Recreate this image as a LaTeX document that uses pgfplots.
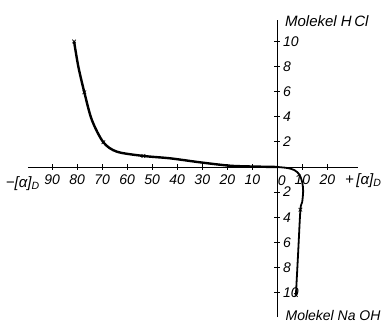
\documentclass[border=0pt]{standalone}
\usepackage{pgfplots}
\pgfplotsset{compat=1.18}
\usepackage{fontspec}
\setmainfont{Liberation Sans}
\begin{document}
\begin{tikzpicture}
\useasboundingbox (0pt,0pt) rectangle (386pt,327pt);
\begin{axis}[
  at={(28pt,10pt)}, anchor=south west,
  scale only axis, width=329.5pt, height=297pt,
  xmin=-99.6, xmax=32, ymin=-11.95, ymax=11.71,
  axis lines=middle,
  axis line style={-, line width=0.8pt},
  clip=false,
  xtick={-90,-80,-70,-60,-50,-40,-30,-20,-10,10,20},
  xticklabel={\pgfmathparse{abs(\tick)}\pgfmathprintnumber[assume math mode=true,int detect]{\pgfmathresult}},
  ytick={-10,-8,-6,-4,-2,2,4,6,8,10},
  yticklabels={},
  tick align=center,
  major tick length=6pt,
  tick style={black, line width=0.8pt},
  xticklabel style={font=\itshape\fontsize{14}{14}\selectfont, yshift=-1pt},
]
\addplot[black, line width=2.4pt, smooth, tension=0.5] coordinates {
 (-81.2,10) (-79.5,8.0) (-77.1,5.95) (-74.1,3.75) (-69.5,1.97) (-64.1,1.22)
 (-53.5,0.88) (-42.8,0.69) (-30.8,0.37) (-18.8,0.1) (-8,0.03) (0,0)
};
\addplot[black, line width=1.8pt, smooth, tension=0.5] coordinates {
 (0,0) (4,-0.08) (6.8,-0.25) (8.8,-0.6) (9.9,-1.2) (10.3,-1.9) (9.9,-2.8) (9.2,-3.4) (8.3,-6.8) (7.4,-10.2)
};
\addplot[only marks, mark=x, mark size=2.5pt, black, mark options={line width=0.7pt}] coordinates {
 (-81.2,10) (-77.1,5.95) (-69.5,1.97) (-53.5,0.88) (9.2,-3.4) (7.4,-10.2)
};
\begin{scope}[every node/.style={font=\itshape\fontsize{14}{14}\selectfont, inner sep=0pt}]
\node[anchor=west] at (axis cs:2.2,10) {10};
\node[anchor=west] at (axis cs:2.2,8) {8};
\node[anchor=west] at (axis cs:2.2,6) {6};
\node[anchor=west] at (axis cs:2.2,4) {4};
\node[anchor=west] at (axis cs:2.2,2) {2};
\node[anchor=west] at (axis cs:2.2,-2) {2};
\node[anchor=west] at (axis cs:2.2,-4) {4};
\node[anchor=west] at (axis cs:2.2,-6) {6};
\node[anchor=west] at (axis cs:2.2,-8) {8};
\node[anchor=west] at (axis cs:2.2,-10) {10};
\node[anchor=north] at (axis cs:1.8,-0.7) {0};
\node[anchor=west, font=\itshape\fontsize{15}{15}\selectfont] at (axis cs:3,11.63) {Molekel H\,Cl};
\node[anchor=west] at (axis cs:3.2,-11.85) {Molekel Na OH};
\node[anchor=north west, font=\itshape\fontsize{15}{15}\selectfont] at (axis cs:-108.5,-0.75) {−[α]\textsubscript{D}};
\node[anchor=north west, font=\itshape\fontsize{15}{15}\selectfont] at (axis cs:27,-0.5) {+\,[α]\textsubscript{D}};
\end{scope}
\end{axis}
\end{tikzpicture}
\end{document}
